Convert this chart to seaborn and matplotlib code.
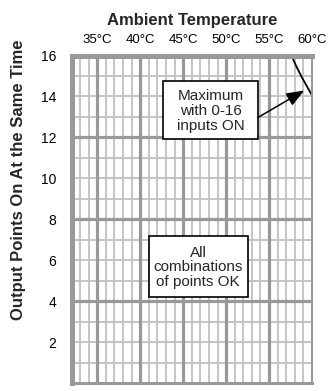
import matplotlib
matplotlib.use("Agg")
import matplotlib.pyplot as plt
from matplotlib.patches import Rectangle
import seaborn as sns
import pandas as pd
import numpy as np

sns.set_theme(style="white")
plt.rcParams['font.family'] = ['Liberation Sans', 'DejaVu Sans']

# Data
temp_ticks = [35, 40, 45, 50, 55, 60]
temp_labels = ["35°C", "40°C", "45°C", "50°C", "55°C", "60°C"]
point_ticks = [2, 4, 6, 8, 10, 12, 14, 16]
curve_temp = [57.6, 58.2, 58.8, 59.4, 60.0, 60.3]
curve_points = [16.0, 15.45, 14.95, 14.5, 14.05, 13.85]

df = pd.DataFrame({"temp": curve_temp, "points": curve_points})

fig = plt.figure(figsize=(3.28, 3.91), dpi=100)
W, H = 328, 391
left, right, top, bottom = 71.5, 312.0, 55.5, 383.0
ax = fig.add_axes([left / W, (H - bottom) / H, (right - left) / W, (bottom - top) / H])

ax.set_xlim(32, 60)
ax.set_ylim(0, 16)

thin_c = "#c0c0c0"
thick_c = "#999999"
# minor grid every 1 unit
for xv in range(33, 60):
    if xv % 5 != 0:
        ax.axvline(xv, color=thin_c, lw=1.3, zorder=1)
for yv in range(1, 16):
    if yv % 4 != 0:
        ax.axhline(yv, color=thin_c, lw=1.3, zorder=1)
for xv in [35, 40, 45, 50, 55]:
    ax.axvline(xv, color=thick_c, lw=2.3, zorder=2)
for yv in [4, 8, 12]:
    ax.axhline(yv, color=thick_c, lw=2.3, zorder=2)

sns.lineplot(data=df, x="temp", y="points", ax=ax, color="black", lw=1.3,
             sort=False, zorder=5)

for side in ["left", "top", "bottom", "right"]:
    ax.spines[side].set_visible(True)
    ax.spines[side].set_color(thick_c)
    ax.spines[side].set_zorder(6)
ax.spines["left"].set_linewidth(3.6)
ax.spines["top"].set_linewidth(3.6)
ax.spines["bottom"].set_linewidth(2.2)
ax.spines["right"].set_linewidth(1.4)

ax.xaxis.tick_top()
ax.xaxis.set_label_position("top")
ax.set_xticks(temp_ticks)
ax.set_xticklabels(temp_labels)
ax.set_yticks(point_ticks)
ax.set_yticklabels([str(v) for v in point_ticks])
ax.tick_params(axis="both", length=0, colors="black")
ax.tick_params(axis="x", pad=7, labelsize=9.5)
ax.tick_params(axis="y", pad=11, labelsize=10)

ax.set_xlabel("Ambient Temperature", fontsize=12, fontweight="bold", labelpad=6)
ax.set_ylabel("Output Points On At the Same Time", fontsize=12, fontweight="bold")
ax.yaxis.label.set_va("center")
ax.yaxis.set_label_coords(-0.22, 0.621)

# annotation boxes
ax.add_patch(Rectangle((42.62, 11.92), 53.75 - 42.62, 14.75 - 11.92,
                       fc="white", ec="black", lw=1.2, zorder=7))
ax.add_patch(Rectangle((41.02, 4.216), 52.58 - 41.02, 7.196 - 4.216,
                       fc="white", ec="black", lw=1.2, zorder=7))
ax.text(48.18, 13.29, "Maximum\nwith 0-16\ninputs ON", ha="center", va="center",
        fontsize=11, linespacing=1.05, zorder=8)
ax.text(46.72, 5.66, "All\ncombinations\nof points OK", ha="center", va="center",
        fontsize=11, linespacing=1.05, zorder=8)

ax.annotate("", xy=(59.1, 14.29), xytext=(53.74, 12.98),
            arrowprops=dict(arrowstyle="-|>,head_length=0.9,head_width=0.35",
                            color="black", lw=1.1, shrinkA=0, shrinkB=0), zorder=9)

fig.savefig("out.png", dpi=100)
